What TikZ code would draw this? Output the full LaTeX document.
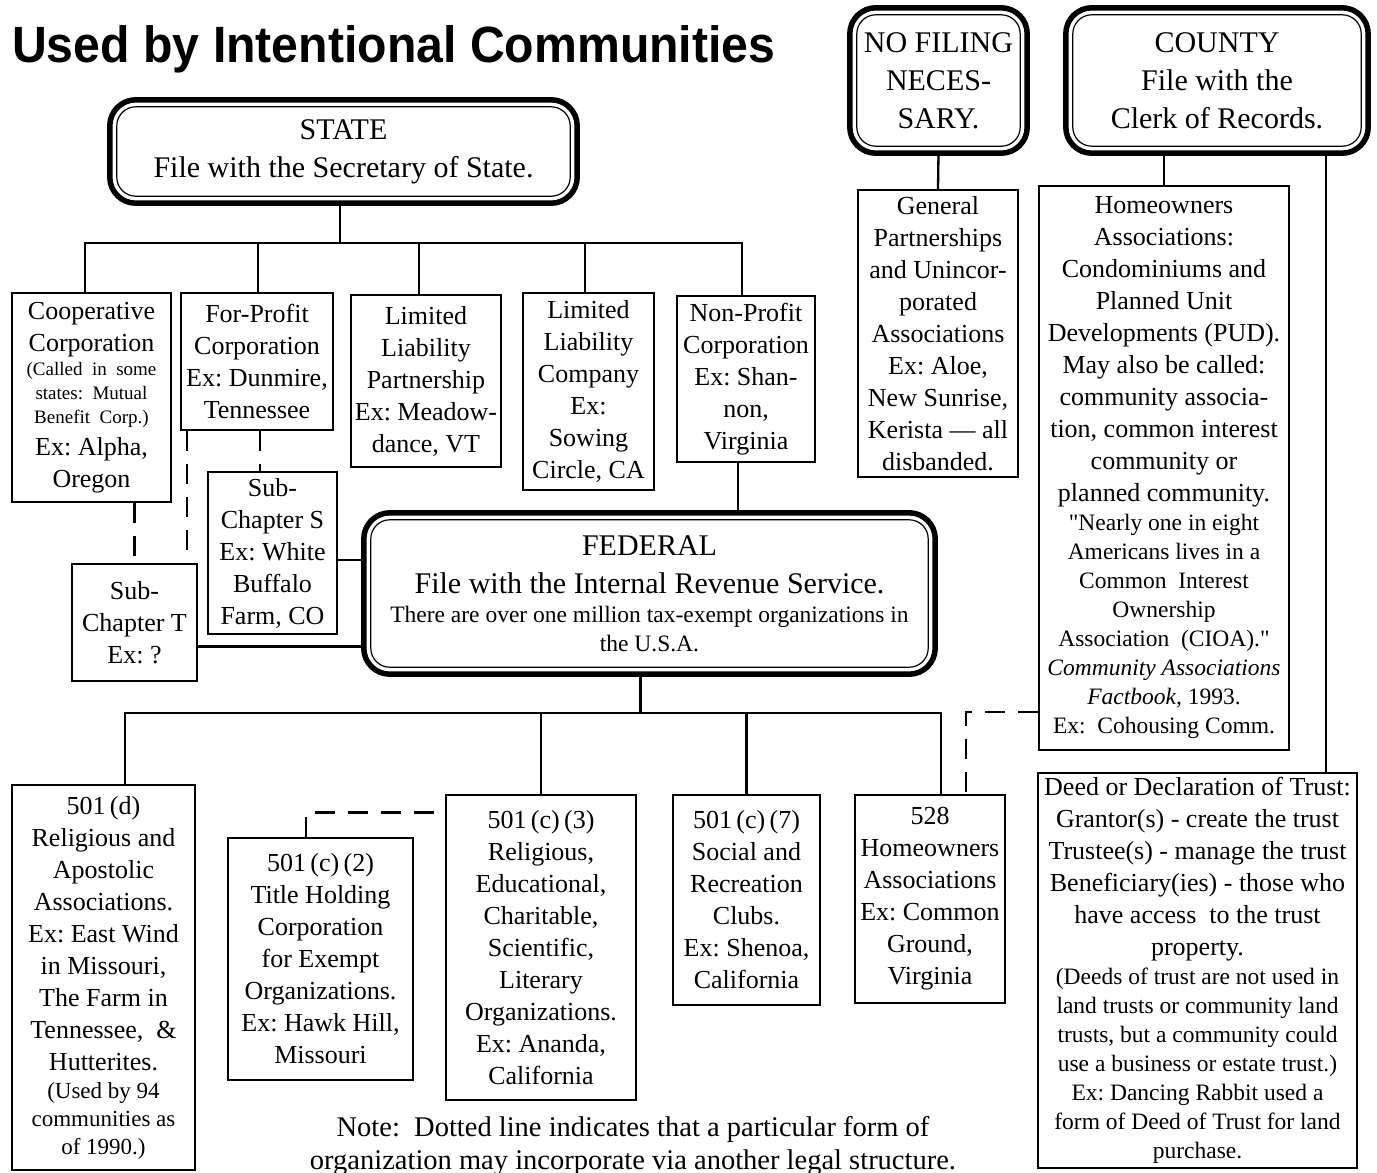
\documentclass[tikz,border=0pt]{standalone}
\usepackage{fontspec}
\setmainfont{Liberation Serif}
\newfontfamily\titlefam[FakeStretch=0.945]{Liberation Sans}
\frenchspacing
\newcommand\bodyfnt{\fontsize{26}{32}\selectfont}
\newcommand\smallfnt{\fontsize{23.5}{29}\selectfont}
\newcommand\tinyfnt{\fontsize{19}{24}\selectfont}
\newcommand\headfnt{\fontsize{30}{38}\selectfont}
\newcommand\notefnt{\fontsize{28.5}{33}\selectfont}
\newcommand\headframe[1]{%
  \draw[line width=5.5pt, rounded corners=26pt] (#1.north west) rectangle (#1.south east);
  \draw[line width=1.2pt, rounded corners=19pt] ([shift={(7,7)}]#1.north west) rectangle ([shift={(-7,-7)}]#1.south east);}
\begin{document}
\begin{tikzpicture}[x=1pt, y=-1pt,
  obox/.style={draw, line width=2.4pt, inner sep=1pt, align=flush center, font=\bodyfnt},
  headnode/.style={inner sep=0pt, align=flush center, font=\headfnt},
  conn/.style={line width=2.3pt},
  dconn/.style={line width=2.3pt, dash pattern=on 20pt off 13pt}]
\useasboundingbox (0,0) rectangle (1377,1173);

% title
\node[anchor=base west, inner sep=0pt, font={\titlefam\bfseries\fontsize{51}{60}\selectfont}] (title) at (12,62) {Used by Intentional Communities};

% heading boxes
\node[headnode, minimum width=467pt, minimum height=103pt, text width=447pt] (state) at (343.5,151.5) {STATE\\ File with the Secretary of State.};
\node[headnode, minimum width=571pt, minimum height=161pt, text width=551pt] (fed) at (649.5,593.5) {FEDERAL\\ File with the Internal Revenue Service.\par {\smallfnt There are over one million tax-exempt organizations in\\ the U.S.A.\par}};
\node[headnode, minimum width=177pt, minimum height=145pt, text width=161pt] (nofile) at (938.5,80.5) {NO FILING\\ NECES-\\ SARY.};
\node[headnode, minimum width=302pt, minimum height=145pt, text width=282pt] (county) at (1217,80.5) {COUNTY\\ File with the\\ Clerk of Records.};
\headframe{state}
\headframe{fed}
\headframe{nofile}
\headframe{county}

% state level
\node[obox, minimum width=159pt, text width=157pt, minimum height=209pt] (coop) at (91.5,397.5) {Cooperative\\ Corporation\\ {\tinyfnt (Called\ \ in\ \ some\\ states:\ \ Mutual\\ Benefit\ \ Corp.)\par} Ex: Alpha,\\ Oregon};
\node[obox, minimum width=152pt, text width=150pt, minimum height=137pt] (fp) at (257,361.5) {For-Profit\\ Corporation\\ Ex: Dunmire,\\ Tennessee};
\node[obox, minimum width=150pt, text width=148pt, minimum height=172pt] (llp) at (426,381) {Limited\\ Liability\\ Partnership\\ Ex: Meadow-\\ dance, VT};
\node[obox, minimum width=131pt, text width=129pt, minimum height=197pt] (llc) at (588.5,391.5) {Limited\\ Liability\\ Company\\ Ex:\\ Sowing\\ Circle, CA};
\node[obox, minimum width=138pt, text width=136pt, minimum height=166pt] (np) at (746,379) {Non-Profit\\ Corporation\\ Ex: Shan-\\ non,\\ Virginia};
\node[obox, minimum width=129pt, text width=127pt, minimum height=162pt] (subS) at (272.5,553) {Sub-\\ Chapter S\\ Ex: White\\ Buffalo\\ Farm, CO};
\node[obox, minimum width=125pt, text width=123pt, minimum height=117pt] (subT) at (134.5,622.5) {Sub-\\ Chapter T\\ Ex: ?};

% no filing / county
\node[obox, minimum width=160pt, text width=158pt, minimum height=287pt] (gen) at (938,333.5) {General\\ Partnerships\\ and Unincor-\\ porated\\ Associations\\ Ex: Aloe,\\ New Sunrise,\\ Kerista — all\\ disbanded.};
\node[obox, minimum width=250pt, text width=248pt, minimum height=564pt] (hoa) at (1164,468) {Homeowners\\ Associations:\\ Condominiums and\\ Planned Unit\\ Developments (PUD).\\ May also be called:\\ community associa-\\ tion, common interest\\ community or\\ planned community.\par {\smallfnt \textquotedbl Nearly one in eight\\ Americans lives in a\\ Common\ \ Interest\\ Ownership\\ Association\ \ (CIOA).\textquotedbl\\ \textit{Community Associations}\\ \textit{Factbook,} 1993.\\ Ex:\ \ Cohousing Comm.\par}};
\node[obox, minimum width=319pt, text width=317pt, minimum height=395pt] (deed) at (1197.5,970.5) {Deed or Declaration of Trust:\\ Grantor(s) - create the trust\\ Trustee(s) - manage the trust\\ Beneficiary(ies) - those who\\ have access\ \ to the trust\\ property.\par {\smallfnt (Deeds of trust are not used in\\ land trusts or community land\\ trusts, but a community could\\ use a business or estate trust.)\\ Ex: Dancing Rabbit used a\\ form of Deed of Trust for land\\ purchase.\par}};

% federal level
\node[obox, minimum width=183pt, text width=181pt, minimum height=385pt] (d) at (103.5,977.5) {501\,(d)\\ Religious and\\ Apostolic\\ Associations.\\ Ex: East Wind\\ in Missouri,\\ The Farm in\\ Tennessee,\ \ \&\\ Hutterites.\par {\fontsize{23}{28}\selectfont (Used by 94\\ communities as\\ of 1990.)\par}};
\node[obox, minimum width=185pt, text width=183pt, minimum height=242pt] (c2) at (320.5,959) {501\,(c)\,(2)\\ Title Holding\\ Corporation\\ for Exempt\\ Organizations.\\ Ex: Hawk Hill,\\ Missouri};
\node[obox, minimum width=190pt, text width=188pt, minimum height=305pt] (c3) at (541,947.5) {501\,(c)\,(3)\\ Religious,\\ Educational,\\ Charitable,\\ Scientific,\\ Literary\\ Organizations.\\ Ex: Ananda,\\ California};
\node[obox, minimum width=147pt, text width=145pt, minimum height=210pt] (c7) at (746.5,900) {501\,(c)\,(7)\\ Social and\\ Recreation\\ Clubs.\\ Ex: Shenoa,\\ California};
\node[obox, minimum width=150pt, text width=148pt, minimum height=208pt] (h528) at (930,899) {528\\ Homeowners\\ Associations\\ Ex: Common\\ Ground,\\ Virginia};

% note
\node[anchor=north, inner sep=0pt, align=center, font=\notefnt] (note) at (633,1116) {Note:\ \ Dotted line indicates that a particular form of\\ organization may incorporate via another legal structure.};

% connectors: state
\coordinate (busS) at (340,243);
\draw[conn] ([xshift=-3.5pt]state.south) -- ([xshift=-3.5pt]state.south |- busS);
\draw[conn] ([xshift=-6.5pt]coop.north) -- ([xshift=-6.5pt]coop.north |- busS) -- ([xshift=-4pt]np.north |- busS) -- ([xshift=-4pt]np.north);
\draw[conn] ([xshift=1pt]fp.north) -- ([xshift=1pt]fp.north |- busS);
\draw[conn] ([xshift=-7pt]llp.north) -- ([xshift=-7pt]llp.north |- busS);
\draw[conn] ([xshift=-3.5pt]llc.north) -- ([xshift=-3.5pt]llc.north |- busS);
\draw[conn] ([xshift=-8pt]np.south) -- ([xshift=-8pt]np.south |- fed.north);
\draw[conn] ([yshift=-7pt]subS.east) -- ([yshift=-7pt]subS.east -| fed.west);
\draw[conn] ([yshift=-24pt]subT.east) -- ([yshift=-24pt]subT.east -| fed.west);
\draw[dconn] (coop.south -| subT.north) -- (subT.north);
\draw[dconn] ([xshift=7pt]fp.south west) -- ([xshift=7pt]fp.south west |- subT.north);
\draw[dconn] ([xshift=3pt]fp.south) -- ([xshift=3pt]fp.south |- subS.north);

% connectors: federal
\coordinate (busF) at (640,713);
\draw[conn] ([xshift=-9pt]fed.south) -- ([xshift=-9pt]fed.south |- busF);
\draw[conn] ([xshift=21.5pt]d.north) -- ([xshift=21.5pt]d.north |- busF) -- ([xshift=11pt]h528.north |- busF) -- ([xshift=11pt]h528.north);
\draw[conn] (c3.north) -- (c3.north |- busF);
\draw[conn] (c7.north) -- (c7.north |- busF);
\draw[dconn] ([xshift=-14.5pt]c2.north) |- ([yshift=135pt]c3.west);

% connectors: no filing / county
\draw[conn] (nofile.south) -- (gen.north);
\draw[conn] (hoa.north) -- (hoa.north |- county.south);
\draw[conn] ([xshift=109pt]county.south) -- ([xshift=109pt]county.south |- deed.north);
\draw[dconn] ([yshift=-244pt]hoa.west) -| ([xshift=36pt]h528.north);
\end{tikzpicture}
\end{document}
